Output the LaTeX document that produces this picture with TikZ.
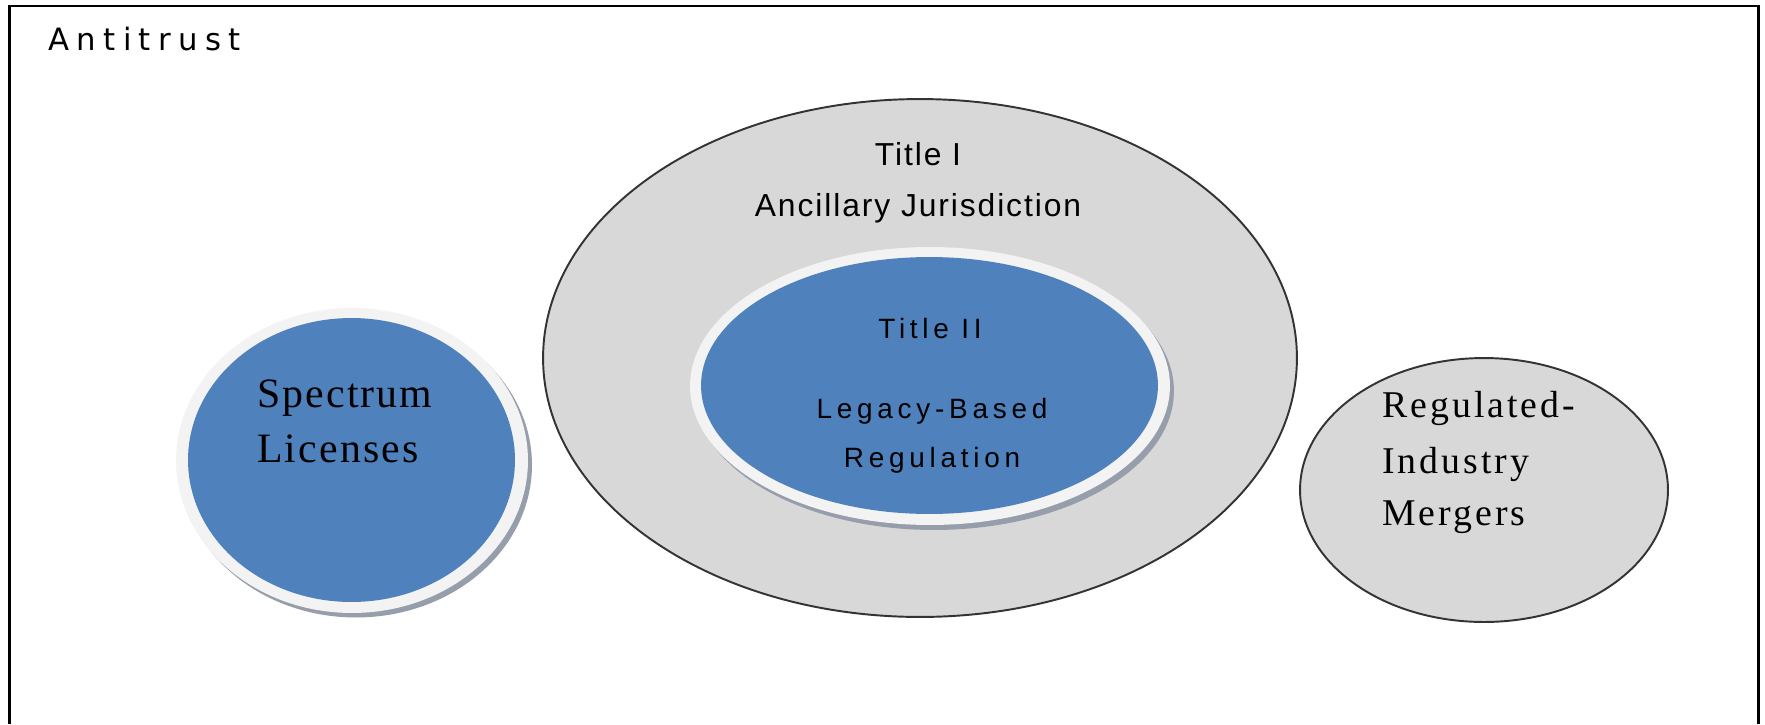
\documentclass[tikz,border=0pt]{standalone}
\usepackage{xcolor}
\usepackage{fontspec}
\usepackage{tikz}
\usetikzlibrary{shapes.geometric}
\newfontfamily\antifont[LetterSpace=24]{DejaVu Sans}
\newfontfamily\titlefont[LetterSpace=6]{Liberation Sans}
\newfontfamily\legacyfont[LetterSpace=17]{Liberation Sans}
\newfontfamily\specfont[LetterSpace=5]{Liberation Serif}
\newfontfamily\mergefont[LetterSpace=8]{Liberation Serif}
\definecolor{circgray}{RGB}{216,216,216}
\definecolor{circblue}{RGB}{79,129,189}
\definecolor{ringwhite}{RGB}{243,243,243}
\definecolor{shadowgray}{RGB}{150,158,172}

\begin{document}
\begin{tikzpicture} [x=0.02cm, y=-0.02cm,
                grayoval/.style = {ellipse, draw=black!80, line width=1.1pt, fill=circgray, inner sep=0pt},
                shadowoval/.style = {ellipse, fill=shadowgray, inner sep=0pt},
                ringoval/.style = {ellipse, fill=ringwhite, inner sep=0pt},
                blueoval/.style = {ellipse, fill=circblue, inner sep=0pt},
                antitext/.style = {inner sep=0pt, font=\antifont\fontsize{17.5}{20}\selectfont},
                titletext/.style = {inner sep=0pt, font=\titlefont\fontsize{18.1}{22}\selectfont},
                legacytext/.style = {inner sep=0pt, font=\legacyfont\fontsize{15.9}{19}\selectfont},
                spectext/.style = {inner sep=0pt, font=\specfont\fontsize{23.8}{28}\selectfont},
                mergetext/.style = {inner sep=0pt, font=\mergefont\fontsize{21.5}{26}\selectfont}
            ]
            \useasboundingbox (0,0) rectangle (1765,724);
            \fill[white] (0,0) rectangle (1765,724);
            \draw[line width=1.7pt] (9.5,724) -- (9.5,6) -- (1758,6) -- (1758,724);
            \node[antitext, anchor=base west] (antitrust) at (48,50) {Antitrust};

            \node[grayoval, minimum width=15.08cm, minimum height=10.36cm] (titleone) at (920,358) {};
            \node[titletext, anchor=base] (titleonea) at (918,165) {Title I};
            \node[titletext, anchor=base] (titleoneb) at (918,216) {Ancillary Jurisdiction};

            \node[shadowoval, minimum width=9.6cm, minimum height=5.56cm] (titletwoshadow) at (934,391) {};
            \node[ringoval, minimum width=9.6cm, minimum height=5.56cm] (titletworing) at (930,386) {};
            \node[blueoval, minimum width=9.14cm, minimum height=5.14cm] (titletwo) at (929.5,385.5) {};
            \node[legacytext, anchor=base] (titletwoa) at (930,338) {Title II};
            \node[legacytext, anchor=base] (titletwob) at (932,418) {Legacy-Based};
            \node[legacytext, anchor=base] (titletwoc) at (932,467) {Regulation};

            \node[shadowoval, minimum width=7.04cm, minimum height=6.1cm] (specshadow) at (356,465) {};
            \node[ringoval, minimum width=7.04cm, minimum height=6.1cm] (specring) at (352,460.5) {};
            \node[blueoval, minimum width=6.54cm, minimum height=5.68cm] (spectrum) at (351.5,460) {};
            \node[spectext, anchor=base west] (speca) at (257,407) {Spectrum};
            \node[spectext, anchor=base west] (specb) at (257,462) {Licenses};

            \node[grayoval, minimum width=7.36cm, minimum height=5.28cm] (mergers) at (1484,490) {};
            \node[mergetext, anchor=base west] (mergea) at (1382,417) {Regulated-};
            \node[mergetext, anchor=base west] (mergeb) at (1382,473) {Industry};
            \node[mergetext, anchor=base west] (mergec) at (1382,525) {Mergers};
        \end{tikzpicture}
\end{document}
